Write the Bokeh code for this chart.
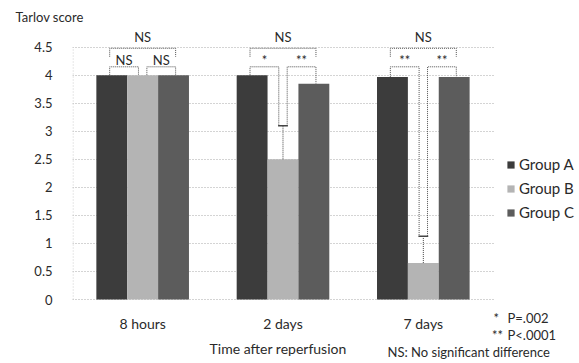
from bokeh.plotting import figure
from bokeh.models import (Range1d, Legend, LegendItem, FixedTicker, NumeralTickFormatter,
                          ColumnDataSource)
from bokeh.core.properties import value
from bokeh.embed import file_html
from bokeh.resources import INLINE

# ---------------- data ----------------
categories = ["8 hours", "2 days", "7 days"]
groups = ["Group A", "Group B", "Group C"]
group_a = [4.0, 4.0, 3.97]
group_b = [4.0, 2.5, 0.65]
group_c = [4.0, 3.85, 3.97]
err_a = [0.0, 0.0, 0.0]
err_b = [0.0, 0.6, 0.48]
err_c = [0.0, 0.0, 0.0]
y_ticks = [0, 0.5, 1, 1.5, 2, 2.5, 3, 3.5, 4, 4.5]
sig_left = ["NS", "*", "**"]     # A vs B
sig_right = ["NS", "**", "**"]   # B vs C
sig_top = ["NS", "NS", "NS"]     # A vs C
footnote_marks = ["*", "**"]
footnote_texts = ["P=.002", "P<.0001"]
footnote_ns = "NS: No significant difference"
y_title = "Tarlov score"
x_title = "Time after reperfusion"

colors = ["#3c3c3c", "#b4b4b4", "#5c5c5c"]
FONT = value("Lato")
TXT = "#2a2a2a"

n = len(categories)
bar_w = 0.22
offsets = [-bar_w, 0.0, bar_w]
centers = [i + 0.5 for i in range(n)]

p = figure(width=579, height=363, x_range=Range1d(0, 3.613), y_range=Range1d(-1.1414, 4.851),
           output_backend="svg", toolbar_location=None,
           min_border_left=72, min_border_right=0, min_border_top=27, min_border_bottom=0)
p.outline_line_color = None
p.background_fill_color = "white"
p.xaxis.visible = False

vals = [group_a, group_b, group_c]
errs = [err_a, err_b, err_c]

renderers = []
for j in range(3):
    src = ColumnDataSource(dict(x=[c + offsets[j] for c in centers], top=vals[j]))
    r = p.vbar(x="x", top="top", width=bar_w, source=src,
               fill_color=colors[j], line_color=None)
    renderers.append(r)

# grid (only across the bar area)
p.xgrid.visible = False
p.ygrid.ticker = FixedTicker(ticks=y_ticks)
p.ygrid.cross_bounds = (0, n)
p.ygrid.grid_line_color = "#a8a8a8"
p.ygrid.grid_line_dash = "1 2"
p.ygrid.grid_line_width = 1
p.segment(x0=[0.004], y0=[0], x1=[0.004], y1=[y_ticks[-1]], line_color="#c0c0c0",
          line_dash="1 2", line_width=1)

# error bars (only where the error is non-zero)
sx0, sy0, sy1, cx0, cx1 = [], [], [], [], []
for j in range(3):
    for i in range(n):
        if errs[j][i] > 0:
            x = centers[i] + offsets[j]
            sx0.append(x)
            sy0.append(vals[j][i])
            sy1.append(vals[j][i] + errs[j][i])
            cx0.append(x - 0.035)
            cx1.append(x + 0.035)
p.segment(x0=sx0, y0=sy0, x1=sx0, y1=sy1, line_color="#444444", line_width=1, line_dash="1 1")
p.segment(x0=cx0, y0=sy1, x1=cx1, y1=sy1, line_color="#444444", line_width=1.5)

# significance brackets
small_y = 4.15
big_y = 4.48
big_leg = 4.33
xs, ys = [], []
lx, ly, lt = [], [], []
for i in range(n):
    c = centers[i]
    ta = group_a[i] + err_a[i]
    tb = group_b[i] + err_b[i]
    tc = group_c[i] + err_c[i]
    xs.append([c - 0.235, c - 0.235, c - 0.03, c - 0.03])
    ys.append([ta, small_y, small_y, tb])
    xs.append([c + 0.03, c + 0.03, c + 0.235, c + 0.235])
    ys.append([tb, small_y, small_y, tc])
    xs.append([c - 0.235, c - 0.235, c + 0.235, c + 0.235])
    ys.append([big_leg, big_y, big_y, big_leg])
    lx += [c - 0.1325, c + 0.1325, c]
    ly += [4.28, 4.28, 4.68]
    lt += [sig_left[i], sig_right[i], sig_top[i]]
p.multi_line(xs=xs, ys=ys, line_color="#505050", line_width=1, line_dash="1 1")
p.text(x=lx, y=ly, text=lt, text_font=FONT, text_font_size="13px", text_align="center",
       text_baseline="middle", text_color=TXT)

# y axis
p.yaxis.ticker = FixedTicker(ticks=y_ticks)
p.yaxis.formatter = NumeralTickFormatter(format="0.[0]")
p.yaxis.axis_line_color = None
p.yaxis.major_tick_line_color = None
p.yaxis.minor_tick_line_color = None
p.yaxis.major_label_text_font = "Lato"
p.yaxis.major_label_text_font_size = "13px"
p.yaxis.major_label_text_color = TXT
p.yaxis.major_label_standoff = 14

# category labels and x title (below the bars)
p.text(x=centers, y=[-0.428] * n, text=categories, text_font=FONT, text_font_size="14px",
       text_align="center", text_baseline="middle", text_color=TXT)
p.text(x=[1.465], y=[-0.88], text=[x_title], text_font=FONT, text_font_size="14px",
       text_align="center", text_baseline="middle", text_color=TXT)

# footnotes
p.text(x=[3.0, 2.99], y=[-0.33, -0.63], text=footnote_marks, text_font=FONT,
       text_font_size="13px", text_align="left", text_baseline="middle", text_color=TXT)
p.text(x=[3.1, 3.1], y=[-0.33, -0.63], text=footnote_texts, text_font=FONT,
       text_font_size="13px", text_align="left", text_baseline="middle", text_color=TXT)
p.text(x=[2.245], y=[-0.94], text=[footnote_ns], text_font=FONT,
       text_font_size="13px", text_align="left", text_baseline="middle", text_color=TXT)

# y title at top-left
p.title.text = y_title
p.title.align = "left"
p.title.offset = -57
p.title.text_font = "Lato"
p.title.text_font_size = "13px"
p.title.text_font_style = "normal"
p.title.text_color = TXT
p.title.standoff = 6

# legend
legend = Legend(items=[LegendItem(label=groups[j], renderers=[renderers[j]]) for j in range(3)],
                location=(434, 141), glyph_width=9, glyph_height=9, label_height=20,
                spacing=4, padding=0, margin=0, border_line_color=None,
                background_fill_alpha=0, label_standoff=4, label_text_font="Lato",
                label_text_font_size="15px", label_text_color=TXT)
p.add_layout(legend)

open("out.html", "w").write(file_html(p, INLINE))
